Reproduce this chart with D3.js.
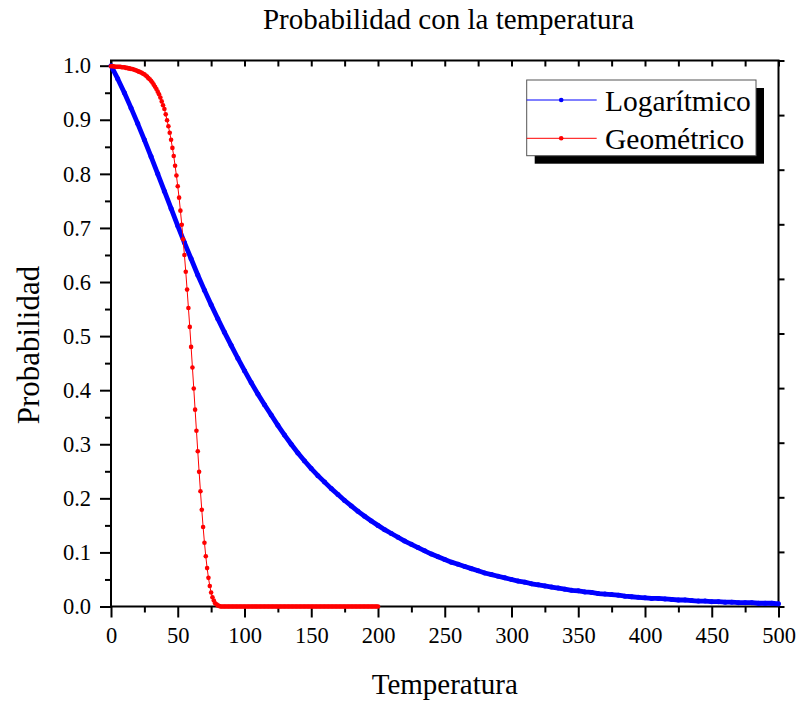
<!DOCTYPE html>
<html><head><meta charset="utf-8">
<script src="https://cdn.jsdelivr.net/npm/d3@7"></script>
<style>
body{margin:0;background:#fff}
svg{display:block}
text{font-family:"Liberation Serif","Times New Roman",serif;fill:#000}
</style>
</head><body>
<svg id="c" width="799" height="702"></svg>
<script>
// ---------- data ----------
const chartTitle = "Probabilidad con la temperatura";
const xTitle = "Temperatura";
const yTitle = "Probabilidad";
const seriesNames = ["Logarítmico", "Geométrico"];
const seriesColors = ["#0000ff", "#ff0000"];
const xTickLabels = [0, 50, 100, 150, 200, 250, 300, 350, 400, 450, 500];
const xMinorTicks = [25, 75, 125, 175, 225, 275, 325, 375, 425, 475];
const xTopTicks = [0, 25, 50, 75, 100, 125, 150, 175, 200, 225, 250, 275, 300, 325, 350, 375, 400, 425, 450, 475, 500];
const yTickLabels = [0.0, 0.1, 0.2, 0.3, 0.4, 0.5, 0.6, 0.7, 0.8, 0.9, 1.0];
const yMinorTicks = [0.05, 0.15, 0.25, 0.35, 0.45, 0.55, 0.65, 0.75, 0.85, 0.95];

// Logarítmico: temperatures 0..500, every 5
const logStart = 0, logStep = 5;
const logValues = [
  1.000, 0.976, 0.950, 0.922, 0.893, 0.863, 0.832, 0.800, 0.768, 0.736,
  0.704, 0.673, 0.643, 0.613, 0.585, 0.558, 0.532, 0.507, 0.483, 0.459,
  0.436, 0.414, 0.393, 0.373, 0.354, 0.335, 0.317, 0.300, 0.284, 0.269,
  0.255, 0.242, 0.230, 0.218, 0.207, 0.196, 0.186, 0.176, 0.167, 0.158,
  0.150, 0.142, 0.135, 0.128, 0.121, 0.115, 0.109, 0.103, 0.097, 0.092,
  0.087, 0.082, 0.078, 0.074, 0.070, 0.066, 0.062, 0.059, 0.056, 0.053,
  0.050, 0.047, 0.045, 0.042, 0.040, 0.038, 0.036, 0.034, 0.032, 0.030,
  0.029, 0.027, 0.026, 0.024, 0.023, 0.022, 0.021, 0.019, 0.018, 0.017,
  0.016, 0.015, 0.015, 0.014, 0.013, 0.012, 0.012, 0.011, 0.010, 0.010,
  0.009, 0.009, 0.008, 0.008, 0.007, 0.007, 0.007, 0.006, 0.006, 0.006,
  0.005
];

// Geométrico: temperatures 0..200, every 1
const geoStart = 0, geoStep = 1;
const geoValues = [
  0.999, 0.999, 0.999, 0.998, 0.998, 0.998, 0.998, 0.998, 0.997, 0.997,
  0.997, 0.996, 0.996, 0.995, 0.995, 0.994, 0.994, 0.993, 0.992, 0.991,
  0.990, 0.989, 0.988, 0.987, 0.985, 0.984, 0.982, 0.980, 0.977, 0.975,
  0.972, 0.969, 0.965, 0.961, 0.957, 0.952, 0.947, 0.941, 0.934, 0.927,
  0.920, 0.910, 0.899, 0.888, 0.876, 0.863, 0.848, 0.833, 0.815, 0.797,
  0.777, 0.756, 0.732, 0.706, 0.679, 0.650, 0.619, 0.586, 0.552, 0.517,
  0.480, 0.442, 0.403, 0.364, 0.325, 0.287, 0.249, 0.213, 0.179, 0.147,
  0.118, 0.093, 0.071, 0.053, 0.038, 0.026, 0.017, 0.011, 0.006, 0.004,
  0.002, 0.001,
  0, 0, 0, 0, 0, 0, 0, 0, 0, 0, 0, 0, 0, 0, 0, 0, 0, 0, 0, 0,
  0, 0, 0, 0, 0, 0, 0, 0, 0, 0, 0, 0, 0, 0, 0, 0, 0, 0, 0, 0,
  0, 0, 0, 0, 0, 0, 0, 0, 0, 0, 0, 0, 0, 0, 0, 0, 0, 0, 0, 0,
  0, 0, 0, 0, 0, 0, 0, 0, 0, 0, 0, 0, 0, 0, 0, 0, 0, 0, 0, 0,
  0, 0, 0, 0, 0, 0, 0, 0, 0, 0, 0, 0, 0, 0, 0, 0, 0, 0, 0, 0,
  0, 0, 0, 0, 0, 0, 0, 0, 0, 0, 0, 0, 0, 0, 0, 0, 0, 0, 0
];

// ---------- layout ----------
const L = 111, R = 778.5, T = 60.5, B = 606.5, Y1 = 65.7;
const svg = d3.select("#c");

const x = d3.scaleLinear().domain([0, 500]).range([L, R]);
const y = d3.scaleLinear().domain([0, 1]).range([B, Y1]);
const yR = d3.scaleLinear().domain([0, 1]).range([B, T]);

const logData = logValues.map((v, i) => ({x: logStart + i * logStep, y: v}));
const geoData = geoValues.map((v, i) => ({x: geoStart + i * geoStep, y: v}));

function styleAxis(g, fontSize) {
  g.select(".domain").remove();
  g.selectAll(".tick line").attr("stroke", "#000").attr("stroke-width", 2);
  g.selectAll(".tick text").attr("font-family", "Liberation Serif, Times New Roman, serif")
    .attr("font-size", fontSize).attr("fill", "#000");
}

// left axis
svg.append("g").attr("transform", `translate(${L},0)`)
  .call(d3.axisLeft(y).tickValues(yTickLabels).tickSize(11).tickPadding(9).tickFormat(d3.format(".1f")))
  .call(g => styleAxis(g, 22.5));
svg.append("g").attr("transform", `translate(${L},0)`)
  .call(d3.axisLeft(y).tickValues(yMinorTicks).tickSize(6).tickFormat(""))
  .call(g => styleAxis(g, 0));
// bottom axis
svg.append("g").attr("transform", `translate(0,${B})`)
  .call(d3.axisBottom(x).tickValues(xTickLabels).tickSize(11).tickPadding(10).tickFormat(d3.format("d")))
  .call(g => styleAxis(g, 22.5));
svg.append("g").attr("transform", `translate(0,${B})`)
  .call(d3.axisBottom(x).tickValues(xMinorTicks).tickSize(6).tickFormat(""))
  .call(g => styleAxis(g, 0));
// top axis (inward ticks)
svg.append("g").attr("transform", `translate(0,${T})`)
  .call(d3.axisTop(x).tickValues(xTopTicks).tickSize(-6).tickFormat(""))
  .call(g => styleAxis(g, 0));
// right axis (outward ticks)
svg.append("g").attr("transform", `translate(${R},0)`)
  .call(d3.axisRight(yR).tickValues(yTickLabels).tickSize(6).tickFormat(""))
  .call(g => styleAxis(g, 0));

// frame
svg.append("path")
  .attr("d", `M${L},${T}H${R}V${B}H${L}Z`)
  .attr("fill", "none").attr("stroke", "#000").attr("stroke-width", 2);

// series
const line = d3.line().x(d => x(d.x)).y(d => y(d.y));

// Logarítmico (dense dots -> thick band)
svg.append("path").datum(logData).attr("d", line)
  .attr("fill", "none").attr("stroke", seriesColors[0]).attr("stroke-width", 4.8)
  .attr("stroke-linejoin", "round");
svg.append("g").selectAll("circle").data(logData).join("circle")
  .attr("cx", d => x(d.x)).attr("cy", d => y(d.y)).attr("r", 2.5)
  .attr("fill", seriesColors[0]);

// Geométrico
svg.append("path").datum(geoData).attr("d", line)
  .attr("fill", "none").attr("stroke", seriesColors[1]).attr("stroke-width", 1);
svg.append("g").selectAll("circle").data(geoData).join("circle")
  .attr("cx", d => x(d.x)).attr("cy", d => y(d.y)).attr("r", 2.3)
  .attr("fill", seriesColors[1]);

// titles
svg.append("text").attr("x", 448.5).attr("y", 29).attr("text-anchor", "middle")
  .attr("font-size", 29).text(chartTitle);
svg.append("text").attr("x", (L + R) / 2).attr("y", 694).attr("text-anchor", "middle")
  .attr("font-size", 29).text(xTitle);
svg.append("text").attr("transform", `translate(39,345) rotate(-90)`).attr("text-anchor", "middle")
  .attr("font-size", 31).text(yTitle);

// legend
const lgX = 526.7, lgY = 80, lgW = 229.3, lgH = 75.7, sh = 8;
svg.append("rect").attr("x", lgX + sh).attr("y", lgY + sh).attr("width", lgW).attr("height", lgH).attr("fill", "#000");
svg.append("rect").attr("x", lgX).attr("y", lgY).attr("width", lgW).attr("height", lgH)
  .attr("fill", "#fff").attr("stroke", "#555").attr("stroke-width", 1);
const rowsY = [100, 138.3];
seriesNames.forEach((name, i) => {
  const g = svg.append("g");
  g.append("line").attr("x1", lgX).attr("x2", lgX + 70).attr("y1", rowsY[i]).attr("y2", rowsY[i])
    .attr("stroke", seriesColors[i]).attr("stroke-width", 1);
  g.append("circle").attr("cx", lgX + 34.5).attr("cy", rowsY[i]).attr("r", 2.3).attr("fill", seriesColors[i]);
  g.append("text").attr("x", 605).attr("y", rowsY[i] + 11).attr("font-size", 29.5).text(name);
});
</script>
</body></html>
